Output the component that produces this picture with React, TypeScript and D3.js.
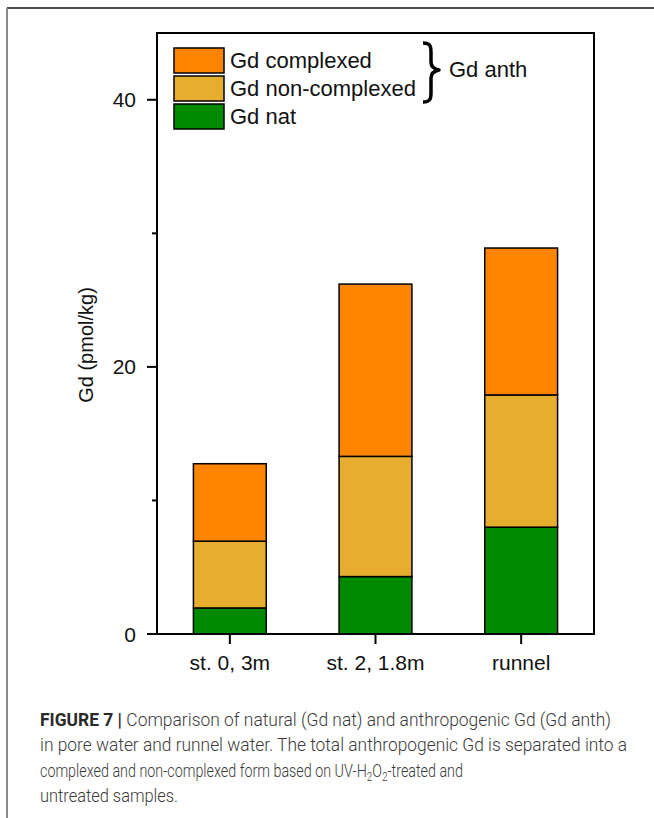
import React, { useLayoutEffect, useRef } from "react";
import * as d3 from "d3";

const categories = ["st. 0, 3m", "st. 2, 1.8m", "runnel"];
const gdNat = [1.95, 4.3, 8.0];
const gdNonComplexed = [5.0, 9.0, 9.9];
const gdComplexed = [5.8, 12.9, 11.0];
const seriesKeys = ["nat", "non", "cplx"];
const seriesLabels = ["Gd complexed", "Gd non-complexed", "Gd nat"];
const majorTicks = [0, 20, 40];
const minorTicks = [10, 30];

const colors: Record<string, string> = { nat: "#008A00", non: "#E6AD2E", cplx: "#FF8400" };

export default function App() {
  const W = 654, H = 818;
  const left = 157, right = 594, top = 33, bottom = 634;
  const x = d3.scaleBand<string>().domain(categories).range([left, right]).paddingInner(0.5).paddingOuter(0.25);
  const y = d3.scaleLinear().domain([0, 45]).range([bottom, top]);
  const rows = categories.map((c, i) => ({ cat: c, nat: gdNat[i], non: gdNonComplexed[i], cplx: gdComplexed[i] }));
  const stack = d3.stack<any>().keys(seriesKeys)(rows);
  const font = "'Liberation Sans', Arial, sans-serif";
  const legendKeys = ["cplx", "non", "nat"];
  const capFont = "Roboto, 'Liberation Sans', sans-serif";
  const line3Ref = useRef<SVGGElement>(null);

  useLayoutEffect(() => {
    const g = line3Ref.current;
    if (!g) return;
    const t = g.querySelector("text") as SVGTextElement;
    const w = t.getBBox().width;
    if (w > 0) g.setAttribute("transform", `translate(40,777) scale(${423 / w},1)`);
  }, []);

  return (
    <svg width={W} height={H} style={{ position: "absolute", left: 0, top: 0, background: "#fff" }} fontFamily={font}>
      <rect x={0} y={0} width={W} height={H} fill="#fff" />
      {/* outer frame */}
      <line x1={7} y1={8} x2={W} y2={8} stroke="#4a4a4a" strokeWidth={2} />
      <line x1={7} y1={8} x2={7} y2={H} stroke="#8a8a8a" strokeWidth={2} />

      {/* bars */}
      {stack.map((s) => (
        <g key={s.key}>
          {s.map((d, i) => (
            <rect
              key={i}
              x={x(categories[i])!}
              y={y(d[1])}
              width={x.bandwidth()}
              height={y(d[0]) - y(d[1])}
              fill={colors[s.key]}
              stroke="#000"
              strokeWidth={1.5}
            />
          ))}
        </g>
      ))}

      {/* plot frame */}
      <rect x={left} y={top} width={right - left} height={bottom - top} fill="none" stroke="#000" strokeWidth={2} />

      {/* y ticks */}
      {majorTicks.map((t) => (
        <g key={t}>
          <line x1={left - 10} x2={left} y1={y(t)} y2={y(t)} stroke="#000" strokeWidth={2} />
          <text x={left - 21} y={y(t)} dy="0.36em" textAnchor="end" fontSize={21} fill="#111">{t}</text>
        </g>
      ))}
      {minorTicks.map((t) => (
        <line key={t} x1={left - 5} x2={left} y1={y(t)} y2={y(t)} stroke="#000" strokeWidth={2} />
      ))}
      <text transform={`translate(93,345) rotate(-90)`} textAnchor="middle" fontSize={20} fill="#111">Gd (pmol/kg)</text>

      {/* x ticks */}
      {categories.map((c) => {
        const cx = x(c)! + x.bandwidth() / 2;
        return (
          <g key={c}>
            <line x1={cx} x2={cx} y1={bottom} y2={bottom + 10} stroke="#000" strokeWidth={2} />
            <text x={cx} y={670} textAnchor="middle" fontSize={21} fill="#111">{c}</text>
          </g>
        );
      })}

      {/* legend */}
      {legendKeys.map((k, i) => (
        <g key={k}>
          <rect x={174} y={48 + i * 28} width={50} height={25} fill={colors[k]} stroke="#000" strokeWidth={1.5} />
          <text x={230} y={68 + i * 28} fontSize={22} fill="#111">{seriesLabels[i]}</text>
        </g>
      ))}
      <path
        d="M 423 43 C 431 43, 431 47, 431 53 L 431 62 C 431 67, 434 69, 439 70 C 434 71, 431 73, 431 78 L 431 92 C 431 98, 431 102, 423 102"
        fill="none"
        stroke="#000"
        strokeWidth={3.5}
        strokeLinejoin="round"
      />
      <text x={449} y={77} fontSize={22} fill="#111">Gd anth</text>

      {/* caption */}
      <g fontFamily={capFont} fontSize={17.5} fill="#3a3a3a">
        <text x={40} y={726} textLength={571} lengthAdjust="spacingAndGlyphs">
          <tspan fontWeight={700} fill="#2a2a2a">FIGURE 7 | </tspan>
          <tspan fontWeight={300}>Comparison of natural (Gd nat) and anthropogenic Gd (Gd anth)</tspan>
        </text>
        <text x={40} y={751} fontWeight={300} textLength={587} lengthAdjust="spacingAndGlyphs">
          in pore water and runnel water. The total anthropogenic Gd is separated into a
        </text>
        <g ref={line3Ref} transform="translate(40,777) scale(0.87,1)">
          <text x={0} y={0} fontWeight={300}>
            complexed and non-complexed form based on UV-H<tspan fontSize={12} baselineShift="-4">2</tspan>O<tspan fontSize={12} baselineShift="-4">2</tspan>-treated and
          </text>
        </g>
        <text x={40} y={802} fontWeight={300} textLength={138} lengthAdjust="spacingAndGlyphs">
          untreated samples.
        </text>
      </g>
    </svg>
  );
}
